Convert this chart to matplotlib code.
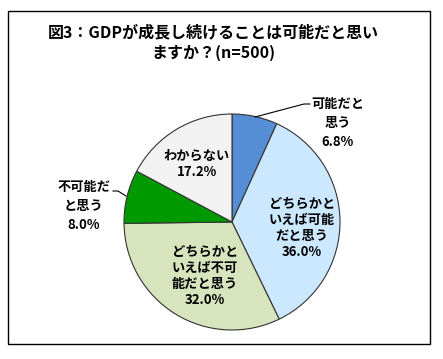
import matplotlib.pyplot as plt
from matplotlib.patches import Rectangle

plt.rcParams['font.family'] = ['Noto Sans CJK JP', 'DejaVu Sans']

# データ
labels = ["可能だと\n思う", "どちらかと\nいえば可能\nだと思う", "どちらかと\nいえば不可\n能だと思う",
          "不可能だ\nと思う", "わからない"]
values = [6.8, 36.0, 32.0, 8.0, 17.2]
colors = ["#558ED5", "#CCE8FF", "#D7E4BD", "#009A00", "#F2F2F2"]
title = "図3：GDPが成長し続けることは可能だと思い\nますか？(n=500)"

W, H = 443, 359
fig = plt.figure(figsize=(W / 100, H / 100), dpi=100)
ax = fig.add_axes([0, 0, 1, 1])

# 外枠
ax.add_patch(Rectangle((8, H - 344), 422, 333, fill=False, ec="black", lw=1))

cx, cy, r = 232, H - 222, 108
ax.pie(values, colors=colors, startangle=90, counterclock=False,
       center=(cx, cy), radius=r, frame=True,
       wedgeprops=dict(edgecolor="#333333", linewidth=0.8))
ax.set_xlim(0, W)
ax.set_ylim(0, H)
ax.set_aspect("equal")
ax.axis("off")

ax.text(213, H - 43, title, ha="center", va="center", fontsize=11.5,
        fontweight="bold", linespacing=1.35)

# ラベル位置（ピクセル座標）
pos = [(338, 123), (302, 228), (205, 276), (84, 206), (197, 164)]
spacing = [1.5, 1.2, 1.2, 1.45, 1.2]
for lab, v, (x, y), ls in zip(labels, values, pos, spacing):
    ax.text(x, H - y, f"{lab}\n{v:.1f}%", ha="center", va="center",
            fontsize=9.5, fontweight="bold", linespacing=ls)

# 引き出し線
ax.plot([255, 304, 310], [H - 117, H - 104, H - 104], color="black", lw=0.8)
ax.plot([113, 118, 126], [H - 191, H - 191, H - 196], color="black", lw=0.8)

fig.savefig("out.png", dpi=100)
